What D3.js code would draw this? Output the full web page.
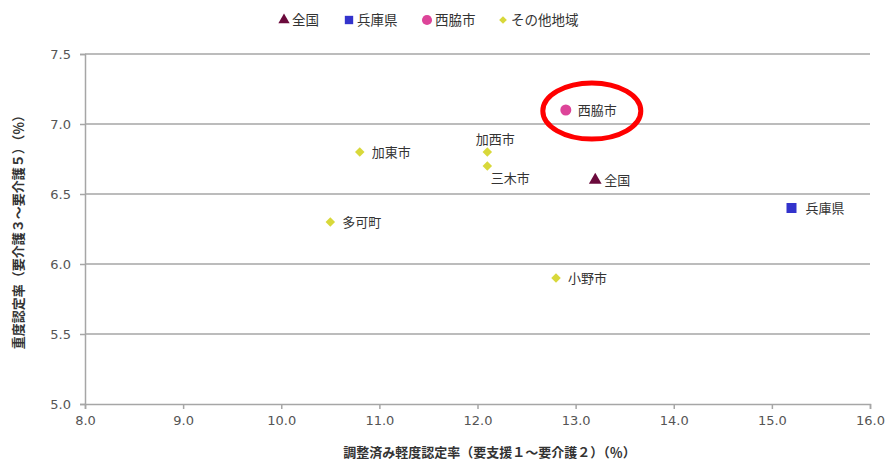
<!DOCTYPE html>
<html><head><meta charset="utf-8">
<script src="https://cdn.jsdelivr.net/npm/d3@7"></script>
<style>body{margin:0;background:#fff;}svg{display:block;}</style>
</head><body>
<svg id="c" width="885" height="462"></svg>
<script>
const names = ["全国","兵庫県","西脇市","加東市","加西市","三木市","多可町","小野市"];
const xValues = [13.2, 15.2, 12.9, 10.8, 12.1, 12.1, 10.5, 12.8];
const yValues = [6.6, 6.4, 7.1, 6.8, 6.8, 6.7, 6.3, 5.9];
const groups = ["全国","兵庫県","西脇市","その他地域","その他地域","その他地域","その他地域","その他地域"];
const labelPos = ["right","right","right","right","above","below","right","right"];
const legendNames = ["全国","兵庫県","西脇市","その他地域"];
const legendColors = ["#6b0a3c","#3333cc","#dd4499","#d8d83a"];
const legendShapes = [d3.symbolTriangle, d3.symbolSquare, d3.symbolCircle, d3.symbolSquare];
const legendRot = [0, 0, 0, 45];
const xTicks = [8,9,10,11,12,13,14,15,16];
const yTicks = [5.0,5.5,6.0,6.5,7.0,7.5];
const xTitle = "調整済み軽度認定率（要支援１～要介護２）（％）";
const yTitle = "重度認定率（要介護３～要介護５）（％）";
const highlight = "西脇市";

const svg = d3.select("#c");
const font = "DejaVu Sans, 'Noto Sans CJK JP', sans-serif";
const jfont = "'Noto Sans CJK JP', sans-serif";
const m = {l:85, r:870, t:54, b:404};
const x = d3.scaleLinear().domain([8,16]).range([m.l, m.r]);
const y = d3.scaleLinear().domain([5,7.5]).range([m.b, m.t]);

svg.append("g").selectAll("line").data(yTicks.filter(d=>d>5)).join("line")
  .attr("x1", m.l).attr("x2", m.r).attr("y1", d=>y(d)).attr("y2", d=>y(d))
  .attr("stroke","#a6a6a6").attr("stroke-width",1.5);

const gx = svg.append("g").attr("transform",`translate(0,${m.b})`)
  .call(d3.axisBottom(x).tickValues(xTicks).tickFormat(d3.format(".1f")).tickSize(5).tickPadding(7));
const gy = svg.append("g").attr("transform",`translate(${m.l},0)`)
  .call(d3.axisLeft(y).tickValues(yTicks).tickFormat(d3.format(".1f")).tickSize(5).tickPadding(9));
[gx,gy].forEach(g=>{
  g.select(".domain").attr("stroke","#a6a6a6").attr("stroke-width",1.5);
  g.selectAll(".tick line").attr("stroke","#a6a6a6").attr("stroke-width",1.5);
  g.selectAll("text").attr("fill","#555").attr("font-size",13).attr("font-family",font);
});

svg.append("text").attr("x",(m.l+m.r)/2+12).attr("y",457).attr("text-anchor","middle")
  .attr("font-family",jfont).attr("font-weight","bold").attr("font-size",13).attr("fill","#333").text(xTitle);
svg.append("text").attr("transform",`translate(23,${(m.t+m.b)/2}) rotate(-90)`).attr("text-anchor","middle")
  .attr("font-family",jfont).attr("font-weight","bold").attr("font-size",13).attr("fill","#333").text(yTitle);

const gi = g => legendNames.indexOf(g);
const pts = names.map((n,i)=>({n, x:xValues[i], y:yValues[i], g:groups[i], p:labelPos[i]}));
const sizes = [70, 100, 95, 45];
svg.append("g").selectAll("path").data(pts).join("path")
  .attr("transform", d=>`translate(${x(d.x)},${y(d.y)}) rotate(${legendRot[gi(d.g)]})`)
  .attr("d", d=>d3.symbol().type(legendShapes[gi(d.g)]).size(sizes[gi(d.g)])())
  .attr("fill", d=>legendColors[gi(d.g)]);

svg.append("g").selectAll("text").data(pts).join("text")
  .attr("x", d=> d.p==="right" ? x(d.x)+ (d.g==="兵庫県"?14:(d.g==="全国"?9:12)) : (d.p==="above"? x(d.x)+8 : x(d.x)+23))
  .attr("y", d=> d.p==="right" ? y(d.y)+5 : (d.p==="above" ? y(d.y)-8 : y(d.y)+17))
  .attr("text-anchor", d=> d.p==="right" ? "start" : "middle")
  .attr("font-family",jfont).attr("font-size",13).attr("fill","#333")
  .text(d=>d.n);

const h = pts.find(d=>d.n===highlight);
svg.append("ellipse").attr("cx", x(h.x)+26).attr("cy", y(h.y)+1).attr("rx",49).attr("ry",28)
  .attr("fill","none").attr("stroke","#ff0000").attr("stroke-width",5);

const lx = [284, 349, 427, 503];
const lg = svg.append("g").selectAll("g").data(legendNames).join("g")
  .attr("transform",(d,i)=>`translate(${lx[i]},20)`);
lg.append("path").attr("transform",(d,i)=>`rotate(${legendRot[i]})`)
  .attr("d",(d,i)=>d3.symbol().type(legendShapes[i]).size([55,70,80,30][i])())
  .attr("fill",(d,i)=>legendColors[i]);
lg.append("text").attr("x",8).attr("y",5).attr("font-family",jfont).attr("font-size",13.5).attr("fill","#333").text(d=>d);
</script>
</body></html>
